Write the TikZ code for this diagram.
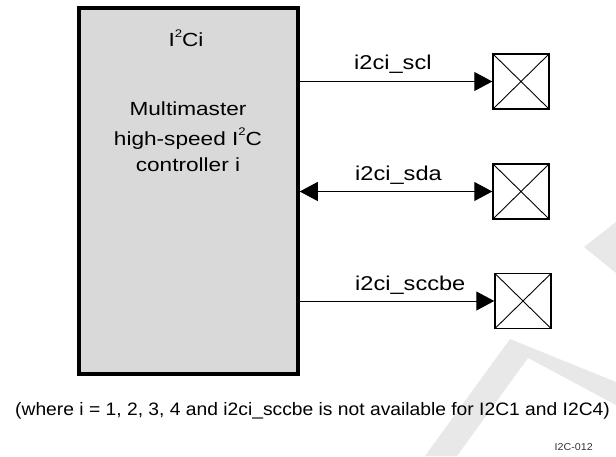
\documentclass[tikz,border=0pt]{standalone}
\usepackage{fontspec}
\setmainfont{Liberation Sans}
\newfontfamily\boxfont[FakeStretch=1.19]{Liberation Sans}
\newfontfamily\labfont[FakeStretch=1.18]{Liberation Sans}
\newfontfamily\capfont[FakeStretch=1.07]{Liberation Sans}
\usetikzlibrary{arrows.meta}
\definecolor{boxgray}{HTML}{D9D9D9}
\definecolor{wmgray}{HTML}{E8E8E8}
\definecolor{idgray}{HTML}{333333}
\newcommand\supnum[1]{\raisebox{9.7pt}{\fontsize{11}{11}\selectfont #1}}
\begin{document}
\begin{tikzpicture}[x=1pt,y=-1pt,
  ctrlbox/.style={draw=black, line width=3.5pt, fill=boxgray, minimum width=219pt, minimum height=366pt, inner sep=0pt},
  pad/.style={draw, line width=1.5pt, minimum width=56pt, minimum height=55pt, inner sep=0pt,
    path picture={\draw[line width=0.9pt] (path picture bounding box.north west) -- (path picture bounding box.south east)
      (path picture bounding box.north east) -- (path picture bounding box.south west);}},
  tip/.tip={Triangle[length=18pt,width=19pt]},
  sig/.style={line width=1pt, -tip},
  sigbi/.style={line width=1pt, tip-tip},
  lab/.style={font=\labfont\fontsize{20}{24}\selectfont, anchor=base west, inner sep=0pt},
  boxtext/.style={font=\boxfont\fontsize{19}{28}\selectfont, inner sep=0pt}
]
\useasboundingbox (0,0) rectangle (616,456);
% watermark
\fill[wmgray] (616,222) -- (584,247) -- (616,273) -- cycle;
\fill[wmgray] (425,456) -- (510,339) -- (616,382) -- (616,405) -- (528,358) -- (457,456) -- cycle;

\node[ctrlbox] (ctrl) at (188.5,191) {};
\node[boxtext, anchor=base] (title) at (186,46.7) {I\supnum{2}Ci};
\node[boxtext, anchor=base, align=center] (desc) at (188,171.7) {Multimaster\\[2pt]high-speed I\supnum{2}C\\[-1.3pt]controller i};

\node[pad] (p1) at (521,81.5) {};
\node[pad] (p2) at (521,191.5) {};
\node[pad] (p3) at (523,301) {};

\draw[sig] (p1.west -| ctrl.east) -- (p1.west);
\draw[sigbi] (p2.west -| ctrl.east) -- (p2.west);
\draw[sig] (p3.west -| ctrl.east) -- (p3.west);

\node[lab] (l1) at (354,69) {i2ci\_scl};
\node[lab] (l2) at (355,180.7) {i2ci\_sda};
\node[lab] (l3) at (355,290) {i2ci\_sccbe};

\node[font=\capfont\fontsize{18}{22}\selectfont, anchor=base west, inner sep=0pt] (cap) at (15,415)
  {(where i = 1, 2, 3, 4 and i2ci\_sccbe is not available for I2C1 and I2C4)};
\node[font=\capfont\fontsize{10}{12}\selectfont, text=idgray, anchor=base east, inner sep=0pt] (fig) at (593,450) {I2C-012};
\end{tikzpicture}
\end{document}
